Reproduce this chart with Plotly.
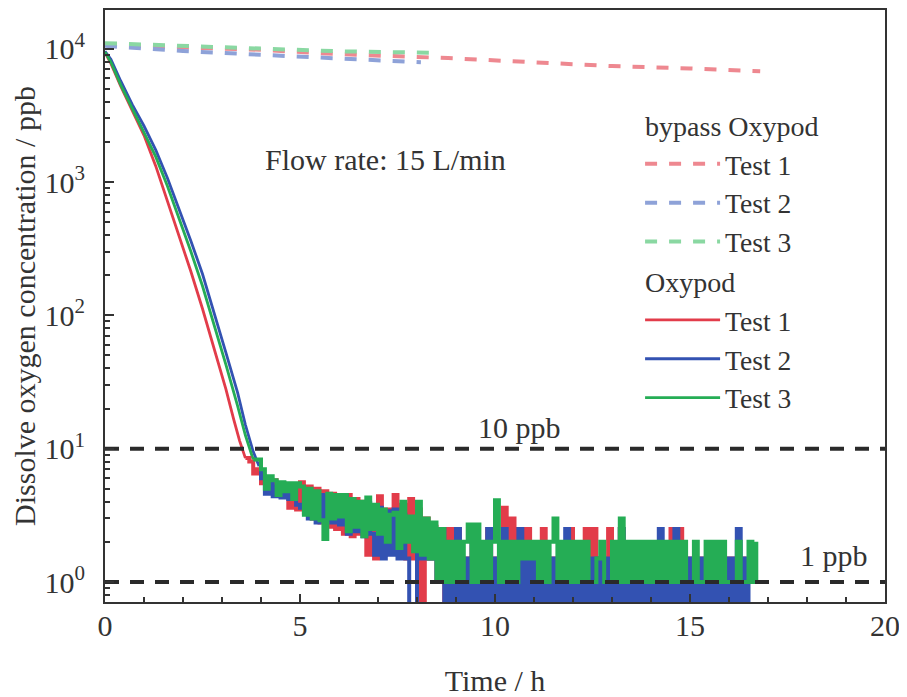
import plotly.graph_objects as go

# ---------------- data ----------------
# bypass Oxypod (dashed)
byp1_time = [0, 2, 4, 6, 8.8, 11, 13, 15, 16.8]
byp1_ppb = [10700, 10200, 9800, 9100, 8500, 7900, 7400, 7100, 6760]
byp2_time = [0, 2, 4, 6, 8.1]
byp2_ppb = [10500, 9600, 9000, 8400, 7900]
byp3_time = [0, 2, 4, 6, 8.6]
byp3_ppb = [11000, 10500, 10000, 9550, 9300]

# Oxypod decay part
ox1_time = [0, 0.15, 0.4, 0.7, 1.0, 1.3, 1.6, 1.9, 2.2, 2.5, 2.8, 3.1, 3.3, 3.45, 3.6]
ox1_ppb = [9330, 7760, 5250, 3390, 2240, 1320, 724, 389, 214, 112, 56, 28, 16.6, 11.5, 8.5]
ox2_time = [0, 0.15, 0.4, 0.7, 1.0, 1.3, 1.6, 1.9, 2.2, 2.5, 2.8, 3.1, 3.4, 3.6, 3.8, 3.95]
ox2_ppb = [9550, 8320, 5750, 3800, 2630, 1740, 1070, 631, 363, 204, 105, 52.5, 26.3, 15.1, 9.5, 7.4]
ox3_time = [0, 0.15, 0.4, 0.7, 1.0, 1.3, 1.6, 1.9, 2.2, 2.5, 2.8, 3.1, 3.4, 3.6, 3.8]
ox3_ppb = [9440, 7940, 5370, 3550, 2400, 1550, 933, 537, 302, 166, 85, 42.7, 20.9, 12.6, 8.3]

# Oxypod noisy tail (sampled every 0.1 h; 0.5 = reading of 0, below the axis)
noise_step = 0.1
ox1_noise_start = 3.7
ox1_noise = [
    8.0, 6.5, 7.0, 5.5, 6.0, 5.0, 5.8, 4.6, 5.5, 4.4,
    3.6, 5.4, 3.5, 5.6, 3.3, 5.2, 3.0, 5.0, 2.8, 4.8,
    2.6, 4.6, 2.5, 4.4, 2.3, 4.5, 2.2, 4.2, 2.3, 4.0,
    1.6, 3.6, 1.5, 4.4, 1.6, 3.5, 2.0, 4.5, 1.8, 3.8,
    1.5, 4.2, 1.5, 3.5, 0.5, 3.0, 1.5, 2.6, 1.0, 2.5,
    0.5, 2.5, 1.0, 2.5, 0.5, 1.5, 1.0, 2.5, 0.5, 1.5,
    1.0, 2.5, 0.5, 1.5, 1.0, 3.6, 1.0, 3.0, 1.0, 2.5,
    0.5, 2.5, 1.0, 1.5, 0.5, 2.5, 1.0, 1.5, 0.5, 1.5,
    1.0, 1.5, 2.5, 1.0, 1.5, 0.5, 2.5, 1.0, 2.5, 1.0,
    1.5, 0.5, 2.5, 1.0, 1.5, 2.5, 0.5, 1.5, 1.0, 1.5,
    0.5, 1.5, 1.0, 1.5, 0.5, 1.5, 1.0, 1.5, 2.5, 1.0,
    2.5, 1.0, 1.5, 0.5, 1.5, 1.0, 1.5, 0.5, 1.5, 1.0,
    1.5, 1.0, 1.5, 0.5, 1.5, 1.0, 1.5, 1.0, 1.5,
]
ox2_noise_start = 4.0
ox2_noise = [
    6.0, 4.6, 5.5, 4.4, 5.2, 4.3, 5.0, 4.2, 5.0, 3.8,
    3.6, 4.8, 3.0, 4.6, 2.8, 4.5, 2.9, 4.4, 2.8, 4.2,
    2.7, 4.4, 2.3, 4.0, 2.4, 3.8, 2.2, 3.9, 2.3, 1.6,
    3.6, 1.5, 3.4, 1.6, 3.5, 1.5, 3.2, 1.5, 0.5, 0.5,
    2.5, 1.5, 2.6, 1.5, 2.5, 1.0, 2.5, 0.5, 1.5, 0.5,
    2.5, 0.5, 1.5, 0.5, 2.5, 0.5, 1.5, 0.5, 2.5, 0.5,
    1.5, 0.5, 2.5, 0.5, 1.5, 0.5, 2.5, 0.5, 1.5, 0.5,
    1.5, 0.5, 1.5, 0.5, 1.5, 0.5, 1.5, 0.5, 2.5, 0.5,
    1.5, 0.5, 1.5, 0.5, 1.5, 0.5, 1.5, 0.5, 1.5, 0.5,
    1.5, 0.5, 2.5, 0.5, 1.5, 0.5, 1.5, 0.5, 1.5, 0.5,
    1.5, 0.5, 2.5, 0.5, 1.5, 0.5, 2.5, 0.5, 1.5, 0.5,
    1.5, 0.5, 1.5, 0.5, 1.5, 0.5, 1.5, 0.5, 1.5, 0.5,
    1.5, 0.5, 2.5, 0.5, 1.5, 0.5, 0.5,
]
ox3_noise_start = 4.0
ox3_noise = [
    7.0, 5.0, 6.2, 5.8, 4.5, 5.6, 4.8, 5.5, 4.2, 5.5,
    5.2, 3.2, 5.0, 3.0, 4.8, 2.9, 2.1, 4.6, 3.0, 4.5,
    3.1, 4.5, 2.4, 4.2, 2.6, 4.0, 2.2, 4.3, 2.5, 3.8,
    2.3, 3.5, 2.0, 3.2, 3.3, 1.8, 4.0, 2.0, 3.1, 1.7,
    4.0, 1.6, 3.0, 1.5, 2.8, 1.0, 2.5, 1.0, 2.0, 1.0,
    2.0, 1.0, 2.0, 2.7, 1.0, 2.7, 1.0, 2.0, 1.0, 2.0,
    4.1, 1.0, 2.0, 1.0, 2.0, 1.0, 2.0, 1.5, 2.0, 1.5,
    2.0, 1.0, 2.0, 1.0, 2.0, 3.0, 1.0, 2.0, 1.0, 2.0,
    1.0, 2.0, 1.0, 2.0, 1.0, 1.0, 1.5, 2.0, 1.0, 1.0,
    2.0, 1.0, 3.0, 1.0, 2.0, 1.0, 2.0, 1.0, 2.0, 1.0,
    2.0, 1.0, 2.0, 1.0, 2.0, 1.0, 2.0, 1.0, 2.0, 1.0,
    1.0, 2.0, 1.0, 1.0, 2.0, 1.0, 2.0, 1.0, 2.0, 1.0,
    1.0, 1.0, 2.0, 1.0, 1.0, 2.0, 1.0, 2.0,
]

ref_levels = [10, 1]
ref_span = [0, 20]

y_tickvals = [1, 10, 100, 1000, 10000]
y_ticktext = ["10<sup>0</sup>", "10<sup>1</sup>", "10<sup>2</sup>", "10<sup>3</sup>", "10<sup>4</sup>"]

# ---------------- style ----------------
FONT = "Liberation Serif"
TXT = "#333333"
byp_colors = ["#ee8890", "#8ea2d8", "#8ad8a2"]
ox_colors = ["#e23c4a", "#3352b2", "#25ad55"]

fig = go.Figure()

oxs = [(ox1_time, ox1_ppb, ox1_noise_start, ox1_noise),
       (ox2_time, ox2_ppb, ox2_noise_start, ox2_noise),
       (ox3_time, ox3_ppb, ox3_noise_start, ox3_noise)]
for i, (tt, vv, t0, nv) in enumerate(oxs):
    fig.add_trace(go.Scatter(
        x=tt, y=vv, mode="lines", name=f"Test {i+1}",
        line=dict(color=ox_colors[i], width=2.8),
        legendgroup="oxy", legendgrouptitle=dict(text="Oxypod"),
        legendrank=4 + i,
    ))
for i, (tt, vv, t0, nv) in enumerate(oxs):
    nt = [tt[-1]] + [round(t0 + k * noise_step, 2) for k in range(len(nv))]
    ny = [vv[-1]] + nv
    fig.add_trace(go.Scatter(
        x=nt, y=ny, mode="lines", line=dict(color=ox_colors[i], width=4, shape="hv"),
        legendgroup="oxy", showlegend=False, hoverinfo="skip",
    ))

for i, (tt, vv) in enumerate([(byp1_time, byp1_ppb), (byp2_time, byp2_ppb), (byp3_time, byp3_ppb)]):
    fig.add_trace(go.Scatter(
        x=tt, y=vv, mode="lines", name=f"Test {i+1}",
        line=dict(color=byp_colors[i], width=4, dash="12px,12px"),
        legendgroup="bypass", legendgrouptitle=dict(text="bypass Oxypod"),
        legendrank=1 + i,
    ))

for lvl in ref_levels:
    fig.add_trace(go.Scatter(
        x=ref_span, y=[lvl, lvl], mode="lines",
        line=dict(color="#2a2a2a", width=4, dash="14px,11px"),
        showlegend=False, hoverinfo="skip",
    ))

ann_font = dict(size=30, family=FONT, color=TXT)
fig.add_annotation(text="Flow rate: 15 L/min", x=0.359, y=0.747, xref="paper", yref="paper",
                   xanchor="center", yanchor="middle", showarrow=False, font=ann_font)
fig.add_annotation(text="10 ppb", x=0.532, y=0.294, xref="paper", yref="paper",
                   xanchor="center", yanchor="middle", showarrow=False, font=ann_font)
fig.add_annotation(text="1 ppb", x=0.935, y=0.078, xref="paper", yref="paper",
                   xanchor="center", yanchor="middle", showarrow=False, font=ann_font)

fig.update_layout(
    width=899, height=689,
    margin=dict(l=97, r=22, t=2, b=95),
    paper_bgcolor="white", plot_bgcolor="white",
    font=dict(family=FONT, size=29, color=TXT),
    showlegend=True,
    legend=dict(x=0.686, y=0.848, xanchor="left", yanchor="top",
                bgcolor="rgba(0,0,0,0)", borderwidth=0,
                font=dict(size=27.6, family=FONT, color=TXT),
                grouptitlefont=dict(size=28, family=FONT, color=TXT),
                tracegroupgap=0, itemwidth=75),
    xaxis=dict(
        range=[0, 20], dtick=5, tick0=0, automargin=False,
        ticks="inside", ticklen=8, tickwidth=2, tickcolor="#333",
        minor=dict(ticks="inside", dtick=1, ticklen=5, tickwidth=1.5, tickcolor="#333"),
        showline=True, linewidth=2, linecolor="#333", mirror=True,
        showgrid=False, zeroline=False,
        tickfont=dict(size=30, family=FONT, color=TXT),
        title=dict(text="Time / h", font=dict(size=30, family=FONT, color=TXT), standoff=30),
        ticklabelstandoff=-4,
    ),
    yaxis=dict(
        type="log", range=[-0.15, 4.29], automargin=False,
        tickmode="array", tickvals=y_tickvals, ticktext=y_ticktext,
        ticks="inside", ticklen=9, tickwidth=2, tickcolor="#333",
        minor=dict(ticks="inside", dtick="D1", ticklen=5, tickwidth=1.5, tickcolor="#333"),
        showline=True, linewidth=2, linecolor="#333", mirror=True,
        showgrid=False, zeroline=False,
        tickfont=dict(size=30, family=FONT, color=TXT),
        title=dict(text="Dissolve oxygen concentration / ppb",
                   font=dict(size=30, family=FONT, color=TXT), standoff=8),
        ticklabelstandoff=12,
    ),
)

fig.write_html("out.html")
